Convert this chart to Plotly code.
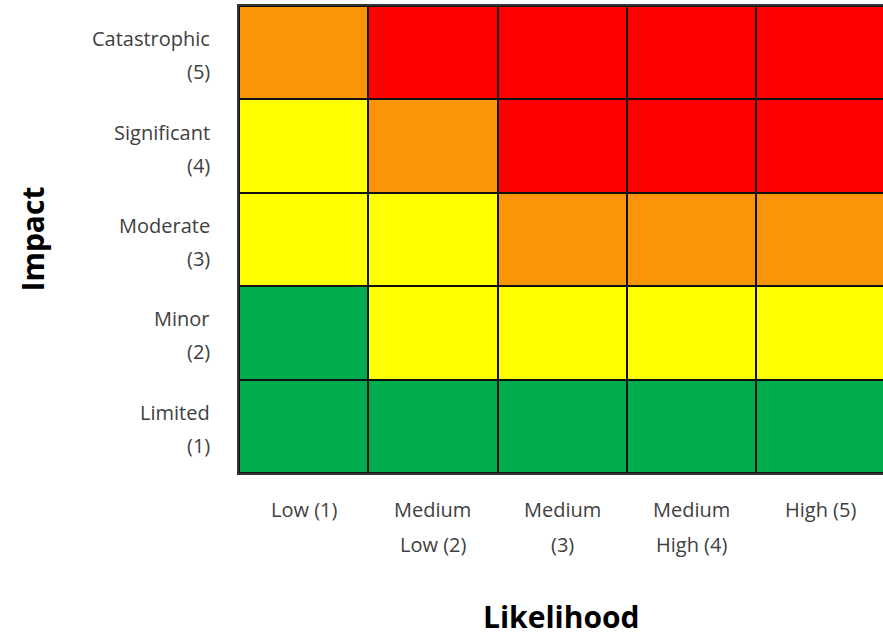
import plotly.graph_objects as go

likelihood = ["Low (1)", "Medium<br>Low (2)", "Medium<br>(3)", "Medium<br>High (4)", "High (5)"]
impact = ["Limited<br>(1)", "Minor<br>(2)", "Moderate<br>(3)", "Significant<br>(4)", "Catastrophic<br>(5)"]
# risk level per cell: 1=green, 2=yellow, 3=orange, 4=red ; rows bottom (Limited) to top (Catastrophic)
risk = [
    [1, 1, 1, 1, 1],
    [1, 2, 2, 2, 2],
    [2, 2, 3, 3, 3],
    [2, 3, 4, 4, 4],
    [3, 4, 4, 4, 4],
]
level_colors = ["#00AD4E", "#FFFF00", "#FB9508", "#FF0000"]

colorscale = []
n = len(level_colors)
for i, c in enumerate(level_colors):
    colorscale.append([i / n, c])
    colorscale.append([(i + 1) / n, c])

fig = go.Figure(go.Heatmap(
    z=risk,
    x=list(range(len(likelihood))),
    y=list(range(len(impact))),
    zmin=0.5, zmax=4.5,
    colorscale=colorscale,
    showscale=False,
    xgap=2, ygap=2,
    hoverinfo="skip",
))

FONT = "Open Sans, sans-serif"
label_font = dict(family=FONT, size=20, color="#404040")
annotations = []
for i, lab in enumerate(impact):
    parts = lab.split("<br>")
    for j, p in enumerate(parts):
        annotations.append(dict(
            x=0, xref="paper", y=i, yref="y", text=p, showarrow=False,
            xanchor="right", yanchor="middle", xshift=-27,
            yshift=(14 if j == 0 else -19), font=label_font,
        ))
for i, lab in enumerate(likelihood):
    parts = lab.split("<br>")
    for j, p in enumerate(parts):
        annotations.append(dict(
            x=i, xref="x", y=0, yref="paper", text=p, showarrow=False,
            xanchor="center", yanchor="middle",
            yshift=-36 - 35 * j, font=label_font,
        ))
annotations.append(dict(
    x=0.5, xref="paper", y=0, yref="paper", text="<b>Likelihood</b>", showarrow=False,
    xanchor="center", yanchor="middle", yshift=-143,
    font=dict(family=FONT, size=30, color="#000000"),
))
annotations.append(dict(
    x=0, xref="paper", y=0.5, yref="paper", text="<b>Impact</b>", showarrow=False,
    xanchor="center", yanchor="middle", xshift=-207, textangle=-90,
    font=dict(family=FONT, size=30, color="#000000"),
))

fig.update_layout(
    width=883, height=638,
    margin=dict(l=239, r=0, t=6, b=165),
    paper_bgcolor="white",
    plot_bgcolor="#111111",
    annotations=annotations,
    xaxis=dict(range=[-0.5, 4.48], showticklabels=False, ticks="", showgrid=False,
               zeroline=False, showline=True, mirror=True, linecolor="#333333", linewidth=2),
    yaxis=dict(range=[-0.5, 4.5], showticklabels=False, ticks="", showgrid=False,
               zeroline=False, showline=True, mirror=False, linecolor="#333333", linewidth=2),
)

fig.write_html(
    "out.html",
    config={"displayModeBar": False},
    post_script="document.body.style.margin='0';document.body.style.overflow='hidden';",
)
